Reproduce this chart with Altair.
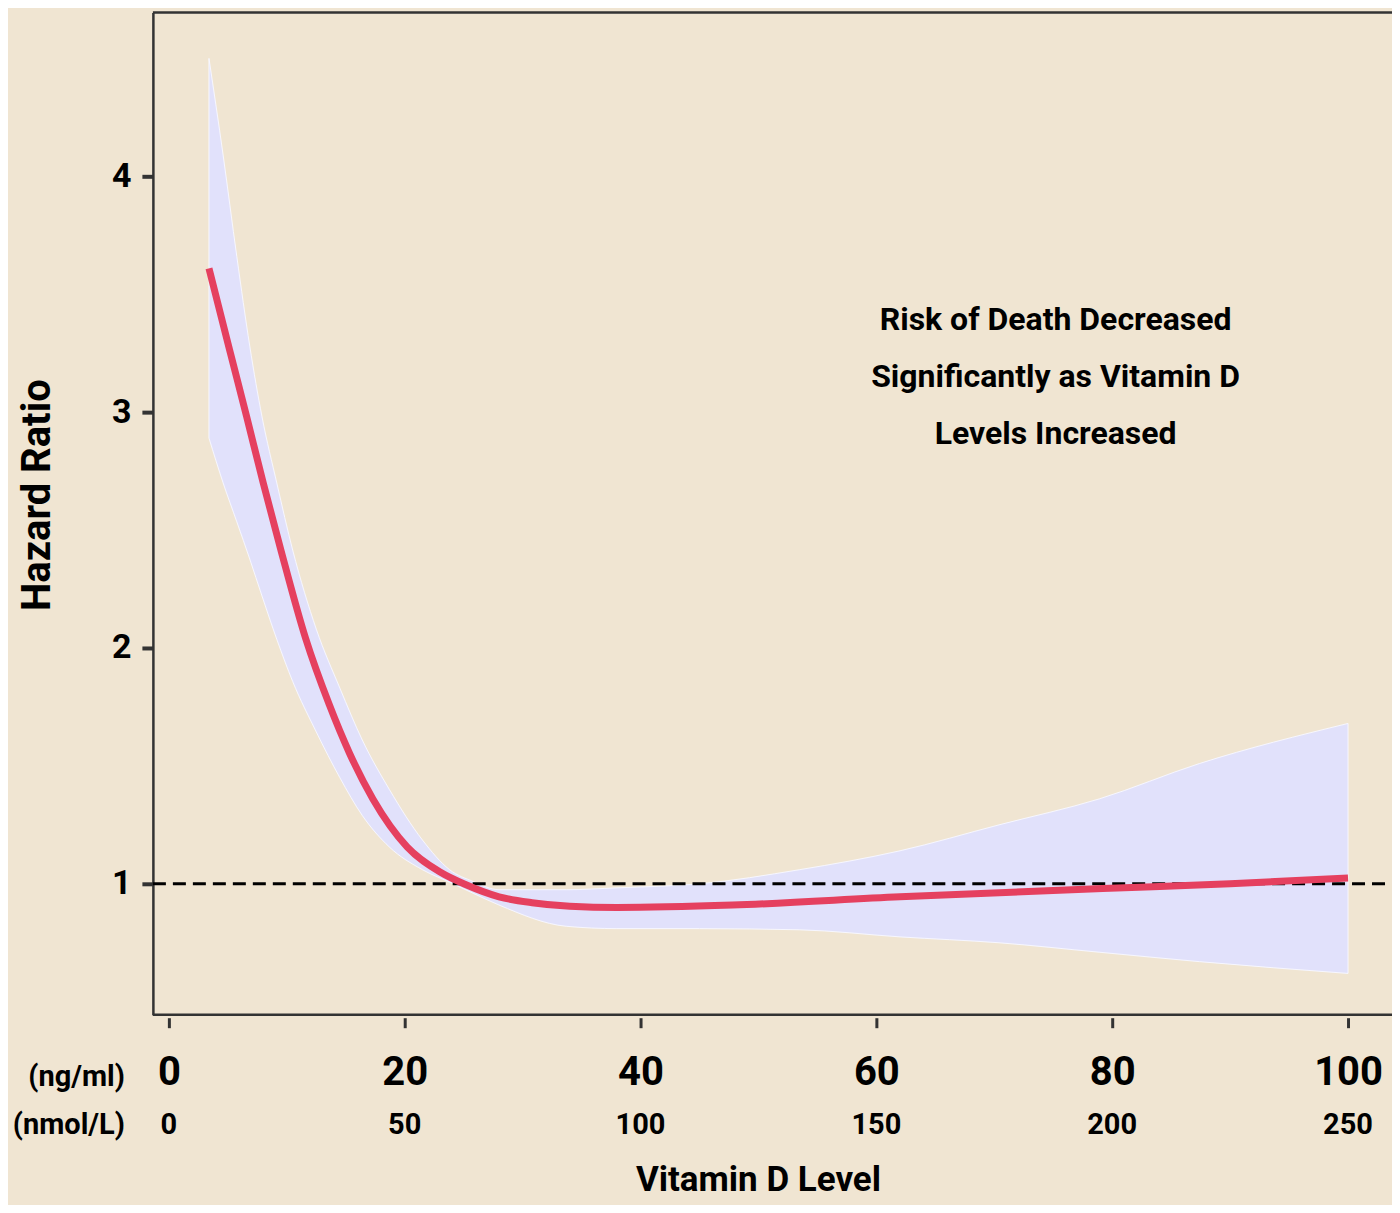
import altair as alt
import pandas as pd

# ---- data ----
curve_x = [3.4, 5.17, 6.6, 8.0, 9.5, 11.6, 13.6, 15.3, 17.3, 20.2, 23.0, 25.2, 28.0, 30.8, 34.0, 38.0, 47.8, 62.0, 79.2, 90.0, 100.0]
curve_hr = [3.61, 3.26, 2.98, 2.70, 2.415, 2.04, 1.76, 1.556, 1.36, 1.157, 1.05, 0.996, 0.945, 0.92, 0.905, 0.90, 0.91, 0.945, 0.98, 1.0, 1.025]

band_x = [3.4, 4.6, 5.76, 6.86, 7.9, 9.15, 10.5, 12.5, 14.5, 16.4, 18.7, 21.5, 23.8, 25.8, 28.0, 33.7, 38.0, 45.0, 53.5, 62.0, 70.4, 78.9, 87.4, 100.0]
band_upper = [4.50, 4.09, 3.66, 3.28, 2.98, 2.70, 2.415, 2.08, 1.83, 1.61, 1.40, 1.186, 1.06, 1.01, 0.975, 0.975, 0.983, 1.0, 1.06, 1.14, 1.25, 1.36, 1.51, 1.68]
band_lower = [2.89, 2.70, 2.535, 2.377, 2.22, 2.037, 1.858, 1.644, 1.45, 1.29, 1.156, 1.06, 1.007, 0.96, 0.91, 0.82, 0.81, 0.81, 0.805, 0.775, 0.75, 0.71, 0.67, 0.62]

ng_ticks = [0, 20, 40, 60, 80, 100]
nmol_labels = ["0", "50", "100", "150", "200", "250"]
y_ticks = [1, 2, 3, 4]
reference_hr = 1
annotation = ["Risk of Death Decreased", "Significantly as Vitamin D", "Levels Increased"]
x_title = "Vitamin D Level"
y_title = "Hazard Ratio"
row_labels = ["(ng/ml)", "(nmol/L)"]

# ---- layout / style ----
W, H = 1240, 1003
FONT = "Roboto"
BG = "#F0E5D2"
AXIS_COLOR = "#333333"

curve_df = pd.DataFrame({"x": curve_x, "hr": curve_hr})
band_df = pd.DataFrame({"x": band_x, "upper": band_upper, "lower": band_lower})
nmol_df = pd.DataFrame({"x": ng_ticks, "label": nmol_labels})
one = pd.DataFrame({"a": [0]})

xscale = alt.Scale(domain=[-1.356, 103.73], nice=False, zero=False)
yscale = alt.Scale(domain=[0.445, 4.695], nice=False, zero=False)

band = alt.Chart(band_df).mark_area(
    color="#E1E1FB", interpolate="monotone", stroke="#F7F7FF", strokeWidth=1
).encode(
    x=alt.X("x:Q", scale=xscale, axis=alt.Axis(
        values=ng_ticks, title=None, domain=False, offset=3, tickSize=10, tickWidth=3,
        tickColor=AXIS_COLOR, labelFontSize=40, labelFontWeight="bold", labelColor="black",
        labelPadding=45, labelBaseline="middle", grid=False, format="d")),
    y=alt.Y("upper:Q", scale=yscale, axis=alt.Axis(
        values=y_ticks, title=None, domain=True, domainColor=AXIS_COLOR, domainWidth=2.5,
        tickSize=11, tickWidth=4, tickColor=AXIS_COLOR, labelFontSize=34, format="d",
        labelFontWeight="bold", labelColor="black", labelPadding=11, grid=False)),
    y2="lower:Q",
)

line = alt.Chart(curve_df).mark_line(
    color="#E5405F", strokeWidth=7, interpolate="monotone", strokeCap="butt"
).encode(
    x=alt.X("x:Q", scale=xscale),
    y=alt.Y("hr:Q", scale=yscale),
)

dashed = alt.Chart(pd.DataFrame({"hr": [reference_hr]})).mark_rule(
    color="black", strokeWidth=3, strokeDash=[13, 7]
).encode(
    y=alt.Y("hr:Q", scale=yscale),
    x=alt.value(0),
    x2=alt.value(W),
)

top_rule = alt.Chart(one).mark_rule(color=AXIS_COLOR, strokeWidth=2.5).encode(
    y=alt.value(0), x=alt.value(0), x2=alt.value(W))

bottom_rule = alt.Chart(one).mark_rule(color=AXIS_COLOR, strokeWidth=2.5).encode(
    y=alt.value(H), x=alt.value(0), x2=alt.value(W))

nmol_text = alt.Chart(nmol_df).mark_text(
    fontSize=29, fontWeight="bold", color="black", baseline="middle", align="center"
).encode(
    x=alt.X("x:Q", scale=xscale),
    y=alt.value(1113),
    text="label:N",
)

row1 = alt.Chart(one).mark_text(
    fontSize=29, fontWeight="bold", color="black", baseline="middle", align="right"
).encode(x=alt.value(-28), y=alt.value(1065), text=alt.value(row_labels[0]))

row2 = alt.Chart(one).mark_text(
    fontSize=29, fontWeight="bold", color="black", baseline="middle", align="right"
).encode(x=alt.value(-28), y=alt.value(1113), text=alt.value(row_labels[1]))

ytitle = alt.Chart(one).mark_text(
    fontSize=40, fontWeight="bold", color="black", baseline="middle", align="center", angle=270
).encode(x=alt.value(-115), y=alt.value(483), text=alt.value(y_title))

xtitle = alt.Chart(one).mark_text(
    fontSize=35, fontWeight="bold", color="black", baseline="middle", align="center"
).encode(x=alt.X("a:Q", scale=xscale), y=alt.value(1168), text=alt.value(x_title)).transform_calculate(a="50")

annot = alt.Chart(one).mark_text(
    fontSize=32, fontWeight="bold", color="black", baseline="middle", align="center",
    lineBreak="\n", lineHeight=57
).encode(
    x=alt.X("ax:Q", scale=xscale),
    y=alt.Y("ay:Q", scale=yscale),
    text=alt.value("\n".join(annotation)),
).transform_calculate(ax="75.2", ay="3.39")

chart = alt.layer(
    band, dashed, line, top_rule, bottom_rule, nmol_text, row1, row2, ytitle, xtitle, annot
).properties(
    width=W, height=H, background=BG,
    padding={"left": 145, "top": 4, "right": 0, "bottom": 190},
    autosize=alt.AutoSizeParams(type="none"),
).configure_view(stroke=None).configure(font=FONT)

chart.save("out.html", embed_options={"renderer": "svg", "actions": False})
